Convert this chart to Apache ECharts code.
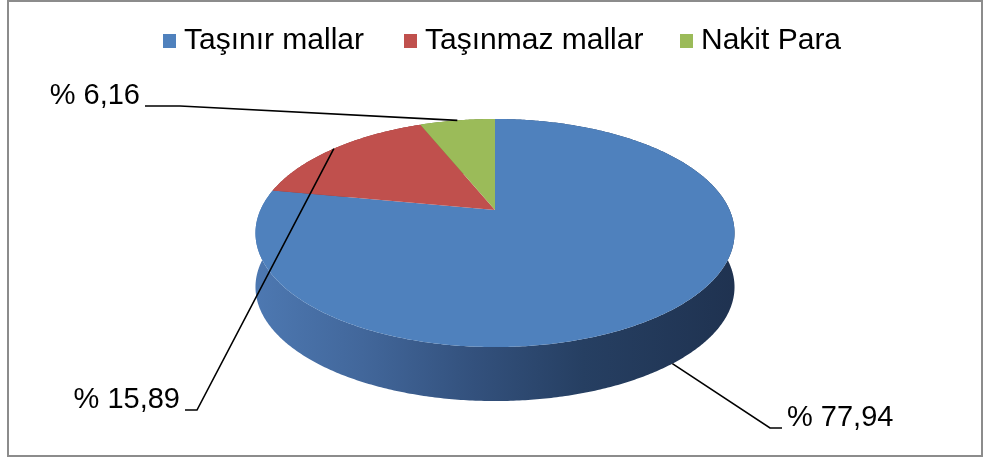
<!DOCTYPE html>
<html><head><meta charset="utf-8">
<script src="https://cdn.jsdelivr.net/npm/echarts@6/dist/echarts.min.js"></script>
<style>html,body{margin:0;padding:0;background:#fff}#c{width:987px;height:461px}</style>
</head><body><div id="c"></div>
<script>
// ---- data ----
const categories = ['Taşınır mallar', 'Taşınmaz mallar', 'Nakit Para'];
const values = [77.94, 15.89, 6.16];

// ---- style / layout ----
const colors = ['#4f81bd', '#c0504d', '#9bbb59'];
const sideColors = ['#3a5a87', '#8a3836', '#6f8a3c'];
const legendLeft = [163, 404, 680];
const CX = 495, CY = 210;      // apex of the tilted pie
const RX = 234.6, RY = 109.4;  // projected radii
const PERSP = 0.2018;          // perspective factor
const DEPTH = 54;              // thickness of the pie
const labelLayout = [
  { knee: [770, 428], end: [782, 428], text: [787, 418], align: 'left' },
  { knee: [197, 410], end: [185, 410], text: [180, 400], align: 'right' },
  { knee: [180, 106], end: [145, 106], text: [140, 96], align: 'right' }
];

const total = values.reduce((a, b) => a + b, 0);
function proj(t, dz) {
  const u = Math.sin(t), v = -Math.cos(t);
  const k = 1 / (1 - PERSP * v);
  return [CX + RX * u * k, CY + RY * v * k + dz];
}
function fmt(v) { return '% ' + v.toFixed(2).replace('.', ','); }

const chart = echarts.init(document.getElementById('c'), null, { renderer: 'canvas' });

const series = categories.map((name, i) => ({
  type: 'custom',
  name: name,
  coordinateSystem: 'none',
  itemStyle: { color: colors[i] },
  data: [values[i]],
  renderItem: function (params, api) {
    const val = api.value(0);
    let before = 0;
    for (let j = 0; j < i; j++) before += values[j];
    const s = before / total * Math.PI * 2;
    const e = s + val / total * Math.PI * 2;
    const n = Math.max(8, Math.ceil((e - s) / 0.01));
    const topArc = [], botArc = [];
    for (let k = 0; k <= n; k++) {
      const t = s + (e - s) * k / n;
      topArc.push(proj(t, 0));
      botArc.push(proj(t, DEPTH));
    }
    const topPts = [[CX, CY]].concat(topArc);
    const sidePts = topArc.concat(botArc.slice().reverse());
    const sideFill = i === 0
      ? new echarts.graphic.LinearGradient(256, 0, 737, 0, [
          { offset: 0, color: '#4d78b1' },
          { offset: 0.22, color: '#42679b' },
          { offset: 0.45, color: '#33517d' },
          { offset: 0.68, color: '#263f62' },
          { offset: 1, color: '#1f3250' }
        ], true)
      : sideColors[i];
    const mid = (s + e) / 2;
    const front = -Math.cos(mid) > 0;
    const p0 = proj(mid, front ? DEPTH : 0);
    const L = labelLayout[i];
    return {
      type: 'group',
      children: [
        { type: 'polygon', z2: 1, shape: { points: sidePts }, style: { fill: sideFill } },
        { type: 'polygon', z2: 10, shape: { points: topPts }, style: { fill: colors[i] } },
        { type: 'polyline', z2: 20, shape: { points: [p0, L.knee, L.end] },
          style: { stroke: '#000', lineWidth: 1.6, fill: null } },
        { type: 'text', z2: 20, x: L.text[0], y: L.text[1],
          style: { text: fmt(val), fill: '#000', fontSize: 29, fontFamily: 'Liberation Sans, Arial',
                   align: L.align, verticalAlign: 'middle' } }
      ]
    };
  }
}));

const legends = categories.map((name, i) => ({
  data: [name],
  icon: 'rect',
  left: legendLeft[i], top: 26,
  padding: 0,
  itemWidth: 13, itemHeight: 14,
  textStyle: { fontSize: 30, fontFamily: 'Liberation Sans, Arial', color: '#000', padding: [0, 0, 0, 3] }
}));

chart.setOption({
  animation: false,
  backgroundColor: '#fff',
  legend: legends,
  graphic: [{
    type: 'rect', z: -10, silent: true,
    shape: { x: 8, y: 1, width: 974, height: 455 },
    style: { fill: 'none', stroke: '#8c8c8c', lineWidth: 2 }
  }],
  series: series
});
</script></body></html>
